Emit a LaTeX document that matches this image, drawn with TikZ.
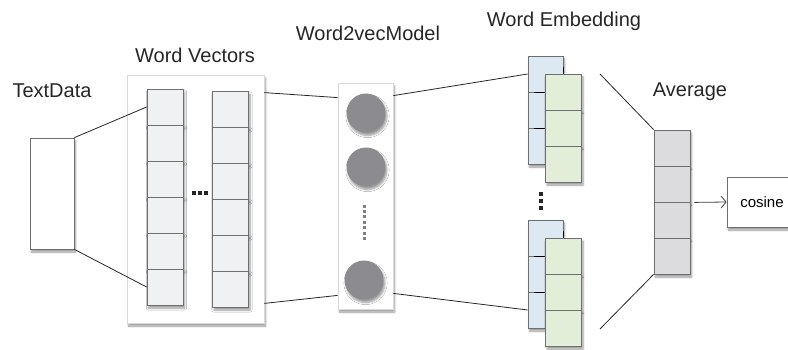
\documentclass[tikz,border=0pt]{standalone}
\usepackage{fontspec}
\setmainfont{Liberation Sans}
\usetikzlibrary{shadows.blur,arrows.meta}

\definecolor{cellgray}{HTML}{F0F1F3}
\definecolor{embblue}{HTML}{DCE8F2}
\definecolor{embgreen}{HTML}{E2EED8}
\definecolor{avggray}{HTML}{DCDCDE}
\definecolor{unitgray}{HTML}{8C8C90}
\definecolor{edgegray}{HTML}{6E6F72}

\begin{document}
\begin{tikzpicture}[
    x=1pt, y=-1pt,
    heading/.style={font=\fontsize{20}{24}\selectfont, text=black!85},
    softshadow/.style={blur shadow={shadow xshift=1.5pt, shadow yshift=-3pt, shadow blur steps=6, shadow opacity=40}},
    box/.style={draw=edgegray, line width=0.8pt, fill=white, inner sep=0pt, softshadow},
    panel/.style={box, draw=black!15},
    cell/.style={box, fill=cellgray, minimum width=36pt, minimum height=36pt},
    unit/.style={circle, fill=unitgray, minimum size=39pt, inner sep=0pt, softshadow},
    wire/.style={line width=0.8pt, black!85},
    dot/.style={fill=black!85, minimum size=3.5pt, inner sep=0pt} % small square dots
]
    \useasboundingbox (0,0) rectangle (788,350);
    \clip (0,0) rectangle (788,350);

    % --- text data ---
    \node[heading] (tdlabel) at (52,91) {TextData};
    \node[box, minimum width=44pt, minimum height=111pt] (txt) at (52,193.5) {};

    % --- word vectors ---
    \node[heading] (wvlabel) at (195,55) {Word Vectors};
    \node[panel, minimum width=137pt, minimum height=248pt] (wvpanel) at (195.5,199) {};
    \foreach \i in {1,...,6} {
        \node[cell] (wvL\i) at (165,{71+36*\i}) {};
        \node[cell] (wvR\i) at (230.5,{73+36*\i}) {};
    }
    \foreach \k in {1,2,3}
        \node[dot] (wvdot\k) at ({188+6*\k},193) {};

    % --- word2vec model ---
    \node[heading] (mlabel) at (368,33) {Word2vecModel};
    \node[panel, minimum width=55pt, minimum height=226pt] (model) at (365.5,196) {};
    \node[unit] (unit1) at (366,113) {};
    \node[unit] (unit2) at (366,167) {};
    \node[unit] (unit3) at (364,280) {};
    \draw[black!50, line width=3pt, dash pattern=on 3pt off 2.4pt]
        ([xshift=-2pt, yshift=-18pt]unit2.south) -- ([yshift=18pt]unit3.north);

    % --- word embedding (two stacked pairs) ---
    \node[heading] (eblabel) at (564,21) {Word Embedding};
    \foreach \g/\top in {A/56, B/220} {
        \foreach \i in {1,2,3}
            \node[cell, fill=embblue, minimum width=35pt] (eb\g\i) at (545.5,{\top-18+36*\i}) {};
        \foreach \i in {1,2}
            \draw[line width=1.6pt, black] ([xshift=6pt]eb\g\i.south west) -- ++(11,0);
        \draw[line width=1.6pt, black] ([yshift=-11pt]eb\g1.north east) -- ++(0,7);
        \foreach \i in {1,2,3}
            \node[cell, fill=embgreen] (eg\g\i) at (563.5,{\top+36*\i}) {};
    }
    \foreach \k in {1,2,3}
        \node[dot] (ebdot\k) at (541,{187+7*\k}) {};

    % --- average ---
    \node[heading] (avlabel) at (690,92) {Average};
    \foreach \i in {1,...,4}
        \node[cell, fill=avggray] (avg\i) at (672,{112+36*\i}) {};

    % --- cosine ---
    \node[box, minimum width=70pt, minimum height=50pt,
          font=\fontsize{15}{18}\selectfont] (cosine) at (762,202) {cosine};

    % connectors
    \draw[wire] (txt.north east) -- (wvL1.west);
    \draw[wire] (txt.south east) -- (wvL6.west);
    \draw[wire] ([yshift=-18pt]wvpanel.north east) -- ([yshift=-15pt]model.north west);
    \draw[wire] ([yshift=20pt]wvpanel.south east) -- ([yshift=14pt]model.south west);
    \draw[wire] ([yshift=-13pt]model.north east) -- (ebA1.west);
    \draw[wire] ([yshift=16pt]model.south east) -- (ebB3.west);
    \coordinate (embtop) at (600,74);
    \coordinate (embbot) at (600,329);
    \draw[wire] (embtop) -- (avg1.north west);
    \draw[wire] (embbot) -- (avg4.south west);
    \draw[wire, black!75, -{Straight Barb[length=5pt, width=12pt]}]
        ([xshift=4pt]avg2.south east) -- (cosine.west);
\end{tikzpicture}
\end{document}
